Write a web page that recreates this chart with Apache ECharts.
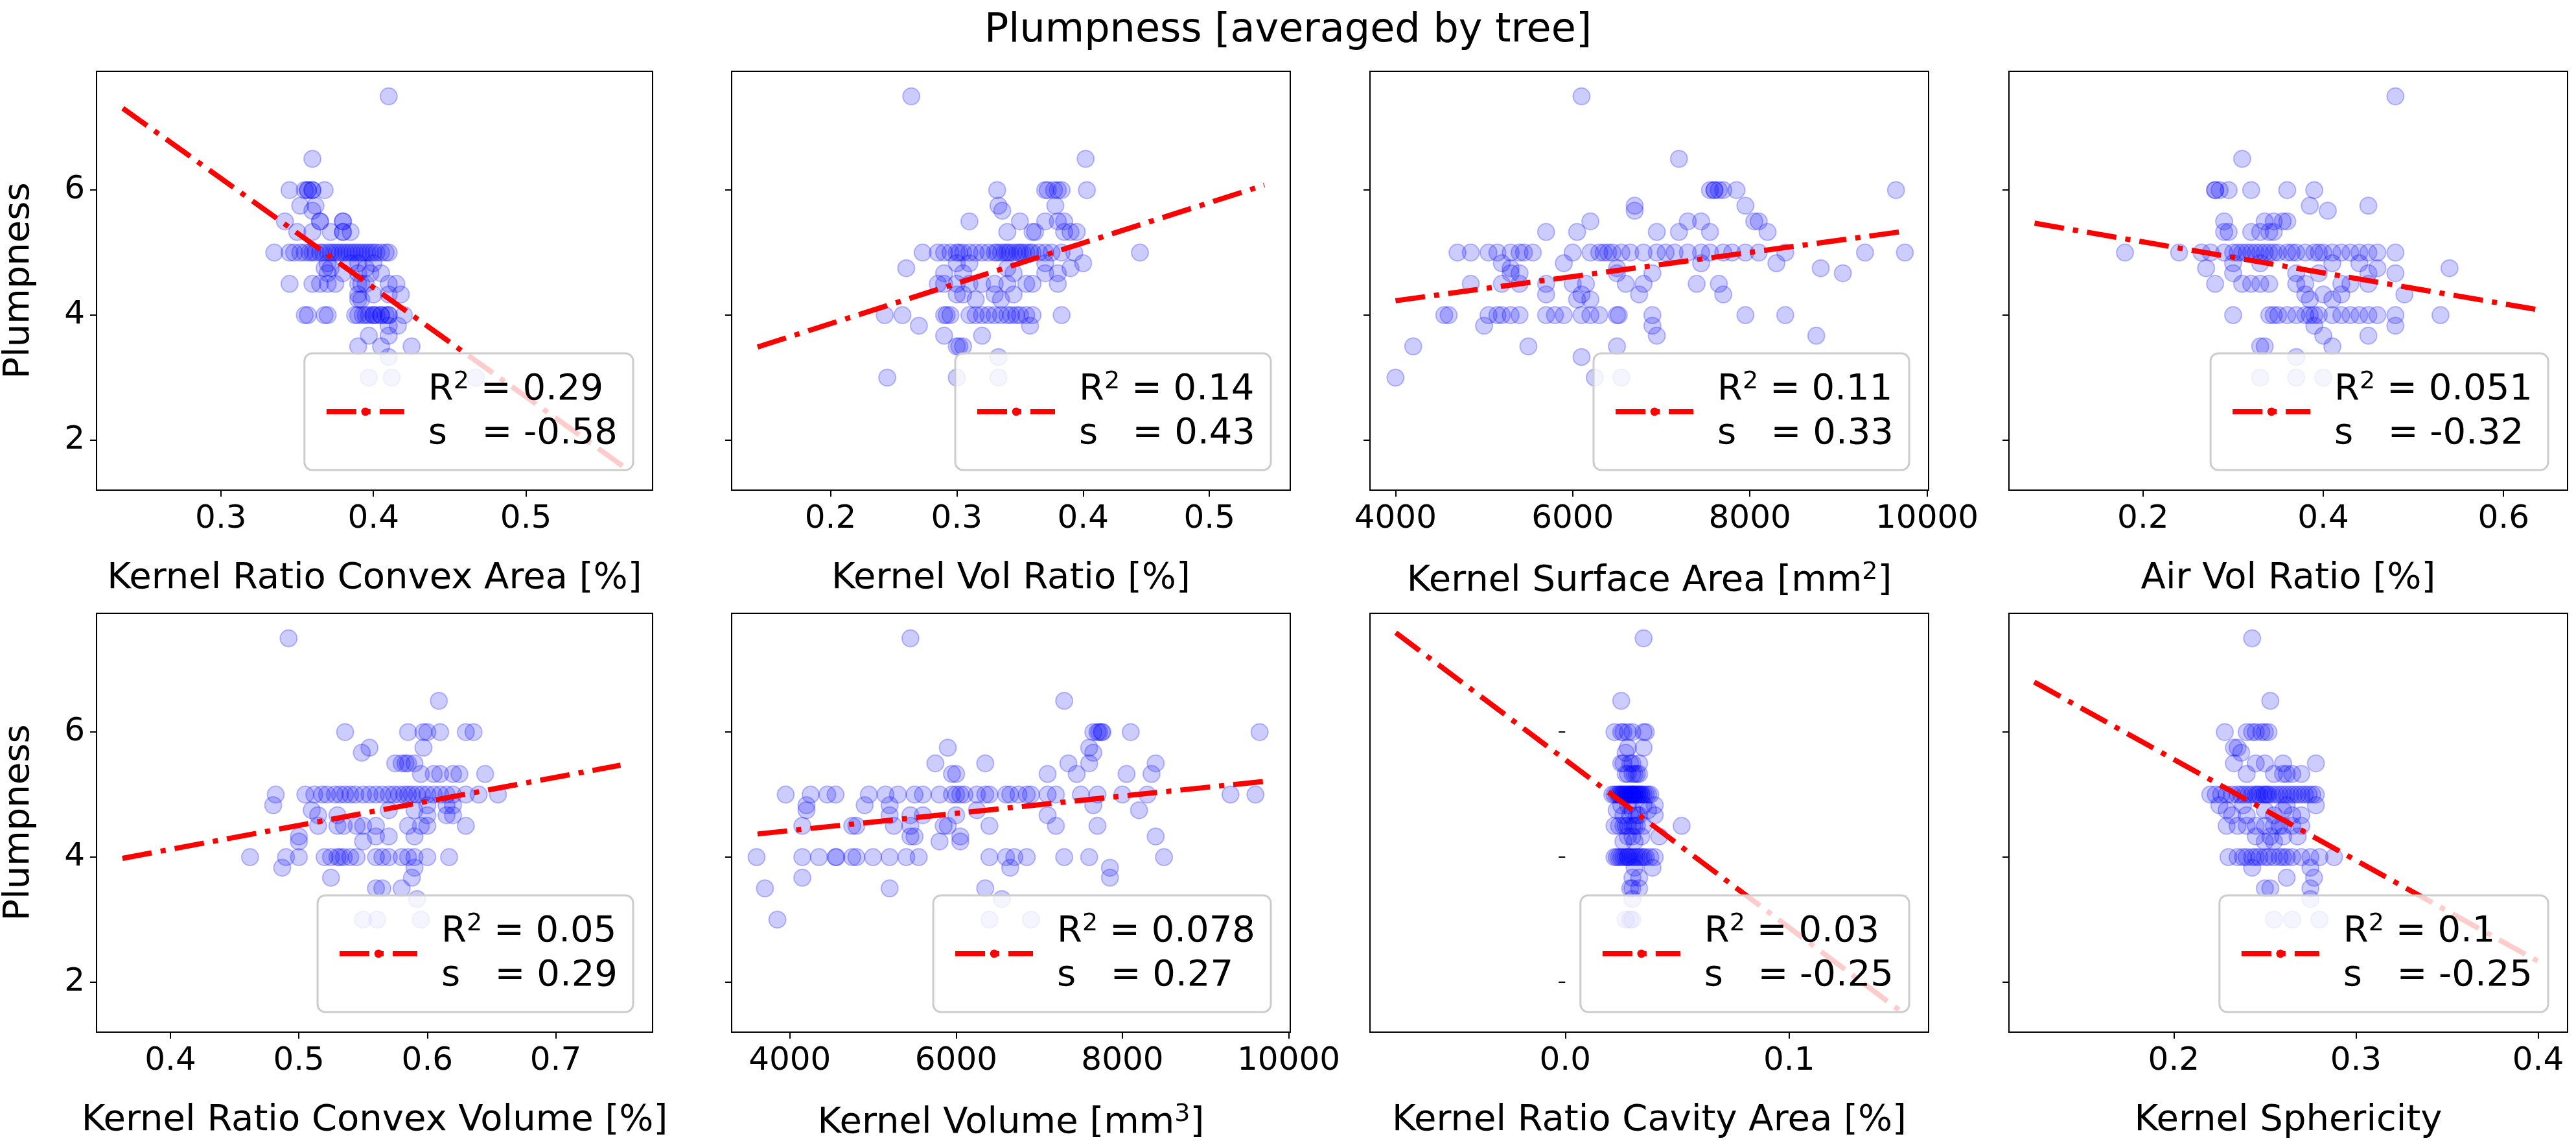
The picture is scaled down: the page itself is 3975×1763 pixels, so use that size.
<!DOCTYPE html>
<html style="height: 100%">
<head>
<meta charset="utf-8">
<script src="https://cdn.jsdelivr.net/npm/echarts@6/dist/echarts.min.js"></script>
</head>
<body style="height: 100%; margin: 0; background: #fff">
<div id="container" style="width: 3975px; height: 1763px"></div>
<script type="text/javascript">
// plumpness per tree (same trees in every panel, grouped by level)
var plump = [
  7.5, 6.5,
  6, 6, 6, 6, 6, 6, 6,
  5.75, 5.75, 5.67,
  5.5, 5.5, 5.5, 5.5, 5.5,
  5.33, 5.33, 5.33, 5.33, 5.33, 5.33,
  5, 5, 5, 5, 5, 5, 5, 5, 5, 5, 5, 5, 5, 5, 5, 5, 5, 5, 5, 5, 5, 5, 5, 5, 5, 5, 5, 5, 5, 5,
  4.83, 4.83, 4.83, 4.83,
  4.75, 4.75, 4.75,
  4.67, 4.67, 4.67, 4.67, 4.67,
  4.5, 4.5, 4.5, 4.5, 4.5, 4.5, 4.5, 4.5, 4.5, 4.5,
  4.33, 4.33, 4.33, 4.33,
  4.25, 4.25,
  4, 4, 4, 4, 4, 4, 4, 4, 4, 4, 4, 4, 4, 4, 4, 4, 4, 4,
  3.83, 3.83, 3.67, 3.67,
  3.5, 3.5, 3.5, 3.33,
  3, 3, 3
];

var ratioConvexArea = [
  0.41, 0.36,
  0.345, 0.355, 0.357, 0.36, 0.368, 0.357, 0.36,
  0.352, 0.362, 0.36,
  0.342, 0.365, 0.365, 0.38, 0.38,
  0.35, 0.36, 0.372, 0.38, 0.385, 0.38,
  0.335, 0.345, 0.348, 0.352, 0.355, 0.358, 0.36, 0.362, 0.365, 0.367, 0.37, 0.372, 0.374, 0.376, 0.378, 0.38, 0.382, 0.384, 0.386, 0.388, 0.39, 0.392, 0.394, 0.396, 0.398, 0.4, 0.402, 0.405, 0.408, 0.41,
  0.37, 0.385, 0.39, 0.4,
  0.368, 0.372, 0.395,
  0.37, 0.38, 0.39, 0.398, 0.405,
  0.345, 0.36, 0.365, 0.37, 0.375, 0.39, 0.392, 0.395, 0.41, 0.415,
  0.39, 0.4, 0.41, 0.418,
  0.39, 0.392,
  0.355, 0.357, 0.368, 0.37, 0.388, 0.39, 0.393, 0.395, 0.397, 0.4, 0.4, 0.402, 0.405, 0.405, 0.408, 0.41, 0.41, 0.42,
  0.416, 0.41, 0.397, 0.41,
  0.39, 0.405, 0.425, 0.41,
  0.397, 0.412, 0.467
];
var volRatio = [
  0.264, 0.402,
  0.332, 0.37, 0.372, 0.377, 0.383, 0.403, 0.38,
  0.378, 0.333, 0.336,
  0.31, 0.35, 0.37, 0.38, 0.385,
  0.34, 0.36, 0.362, 0.39, 0.395, 0.385,
  0.273, 0.285, 0.29, 0.295, 0.3, 0.302, 0.305, 0.31, 0.315, 0.32, 0.325, 0.33, 0.332, 0.335, 0.338, 0.34, 0.342, 0.345, 0.348, 0.35, 0.352, 0.355, 0.358, 0.36, 0.365, 0.37, 0.375, 0.383, 0.393, 0.445,
  0.3, 0.31, 0.37, 0.4,
  0.26, 0.34, 0.39,
  0.29, 0.305, 0.345, 0.37, 0.38,
  0.285, 0.29, 0.3, 0.31, 0.32, 0.33, 0.34, 0.355, 0.36, 0.38,
  0.3, 0.305, 0.33, 0.345,
  0.315, 0.335,
  0.243, 0.257, 0.29, 0.292, 0.295, 0.31, 0.315, 0.32, 0.325, 0.33, 0.335, 0.34, 0.343, 0.347, 0.35, 0.355, 0.36, 0.383,
  0.27, 0.358, 0.29, 0.32,
  0.3, 0.305, 0.302, 0.333,
  0.245, 0.3, 0.333
];
var surfaceArea = [
  6100, 7200,
  7550, 7600, 7650, 7700, 7850, 9650, 7600,
  7950, 6700, 6700,
  6200, 7300, 7450, 8050, 8100,
  5700, 6050, 6950, 7200, 7550, 8200,
  4700, 4850, 5050, 5150, 5300, 5400, 5450, 5550, 6000, 6200, 6300, 6350, 6400, 6450, 6550, 6650, 6800, 6950, 7050, 7150, 7300, 7450, 7550, 7700, 7800, 7950, 8100, 8400, 9300, 9750,
  5200, 5900, 7450, 8300,
  5300, 8800, 6500,
  5300, 5400, 6500, 6900, 9050,
  4850, 5200, 5400, 5700, 6000, 6150, 6600, 6800, 7400, 7650,
  5700, 6100, 6750, 7700,
  6200, 6050,
  4550, 4600, 5050, 5150, 5200, 5300, 5400, 5700, 5800, 5900, 6100, 6200, 6300, 6500, 6520, 6900, 7950, 8400,
  5000, 6900, 6950, 8750,
  4200, 5500, 6500, 6100,
  4000, 6250, 6550
];
var airVolRatio = [
  0.48, 0.31,
  0.28, 0.285, 0.295, 0.32, 0.36, 0.39, 0.28,
  0.45, 0.385, 0.405,
  0.29, 0.335, 0.345, 0.355, 0.36,
  0.29, 0.32, 0.33, 0.34, 0.345, 0.295,
  0.18, 0.24, 0.265, 0.275, 0.29, 0.3, 0.305, 0.31, 0.315, 0.32, 0.325, 0.33, 0.335, 0.34, 0.345, 0.35, 0.36, 0.365, 0.37, 0.38, 0.39, 0.395, 0.4, 0.41, 0.42, 0.43, 0.44, 0.45, 0.46, 0.48,
  0.3, 0.33, 0.41, 0.44,
  0.54, 0.27, 0.46,
  0.3, 0.37, 0.395, 0.45, 0.48,
  0.28, 0.31, 0.32, 0.33, 0.34, 0.37, 0.38, 0.42, 0.43, 0.45,
  0.38, 0.4, 0.42, 0.49,
  0.385, 0.41,
  0.3, 0.34, 0.345, 0.35, 0.36, 0.37, 0.38, 0.385, 0.39, 0.395, 0.41, 0.42, 0.43, 0.44, 0.45, 0.46, 0.48, 0.53,
  0.48, 0.39, 0.4, 0.45,
  0.33, 0.335, 0.41, 0.37,
  0.33, 0.37, 0.4
];
var ratioConvexVolume = [
  0.492, 0.609,
  0.536, 0.585, 0.597, 0.61, 0.63, 0.636, 0.6,
  0.597, 0.555, 0.549,
  0.575, 0.58, 0.585, 0.59, 0.583,
  0.595, 0.605, 0.62, 0.625, 0.645, 0.61,
  0.482, 0.505, 0.512, 0.518, 0.522, 0.528, 0.532, 0.536, 0.54, 0.544, 0.55, 0.555, 0.56, 0.565, 0.57, 0.574, 0.578, 0.582, 0.585, 0.588, 0.592, 0.596, 0.6, 0.605, 0.61, 0.615, 0.62, 0.63, 0.64, 0.655,
  0.48, 0.6, 0.615, 0.62,
  0.51, 0.57, 0.59,
  0.515, 0.53, 0.615, 0.62, 0.6,
  0.515, 0.53, 0.535, 0.545, 0.55, 0.56, 0.585, 0.595, 0.6, 0.63,
  0.5, 0.57, 0.59, 0.56,
  0.55, 0.5,
  0.462, 0.49, 0.5, 0.52, 0.525, 0.53, 0.532, 0.535, 0.54, 0.545, 0.56, 0.565, 0.57, 0.58, 0.585, 0.59, 0.6, 0.617,
  0.487, 0.59, 0.525, 0.588,
  0.56, 0.565, 0.58, 0.592,
  0.55, 0.561, 0.595
];
var kernelVolume = [
  5450, 7300,
  7650, 7700, 7750, 7720, 8100, 9650, 7760,
  7600, 5900, 7650,
  5750, 6350, 7350, 7600, 8400,
  5950, 6000, 7100, 7450, 8050, 8350,
  3950, 4250, 4450, 4550, 4950, 5150, 5300, 5500, 5600, 5800, 5950, 6000, 6050, 6100, 6250, 6350, 6400, 6600, 6650, 6750, 6850, 6900, 7100, 7200, 7500, 7700, 8000, 8300, 9300, 9600,
  4200, 4900, 5200, 7650,
  4200, 6250, 8200,
  5200, 5600, 5450, 6000, 7100,
  4150, 4750, 4800, 5250, 5450, 5850, 5900, 6400, 7200, 7700,
  5450, 5500, 6050, 8400,
  6050, 5800,
  3600, 4150, 4350, 4550, 4560, 4750, 4800, 5000, 5200, 5400, 5550, 6400, 6600, 6700, 6850, 7300, 7600, 8500,
  6650, 7850, 4150, 7850,
  3700, 5200, 6350, 6550,
  3850, 6400, 6900
];
var ratioCavityArea = [
  0.035, 0.025,
  0.022, 0.025, 0.028, 0.035, 0.036, 0.026, 0.03,
  0.035, 0.028, 0.027,
  0.026, 0.029, 0.03, 0.033, 0.025,
  0.028, 0.03, 0.032, 0.033, 0.027, 0.031,
  0.021, 0.022, 0.023, 0.024, 0.024, 0.025, 0.025, 0.026, 0.026, 0.027, 0.027, 0.028, 0.028, 0.029, 0.029, 0.03, 0.03, 0.031, 0.031, 0.032, 0.032, 0.033, 0.033, 0.034, 0.034, 0.035, 0.036, 0.037, 0.038, 0.03,
  0.025, 0.035, 0.04, 0.028,
  0.023, 0.03, 0.037,
  0.026, 0.033, 0.04, 0.029, 0.032,
  0.022, 0.024, 0.026, 0.028, 0.03, 0.032, 0.035, 0.052, 0.027, 0.031,
  0.03, 0.042, 0.028, 0.034,
  0.031, 0.026,
  0.022, 0.023, 0.024, 0.025, 0.026, 0.027, 0.028, 0.028, 0.029, 0.03, 0.031, 0.032, 0.033, 0.034, 0.035, 0.036, 0.038, 0.04,
  0.039, 0.031, 0.033, 0.03,
  0.029, 0.03, 0.033, 0.03,
  0.027, 0.029, 0.03
];
var sphericity = [
  0.243, 0.253,
  0.228, 0.24, 0.245, 0.248, 0.252, 0.243, 0.25,
  0.235, 0.233, 0.237,
  0.233, 0.245, 0.25, 0.26, 0.278,
  0.24, 0.255, 0.26, 0.262, 0.265, 0.27,
  0.22, 0.223, 0.226, 0.229, 0.232, 0.235, 0.237, 0.239, 0.241, 0.243, 0.245, 0.247, 0.249, 0.25, 0.252, 0.254, 0.256, 0.258, 0.26, 0.262, 0.264, 0.266, 0.268, 0.27, 0.272, 0.274, 0.276, 0.278, 0.251, 0.246,
  0.225, 0.238, 0.262, 0.278,
  0.229, 0.25, 0.26,
  0.232, 0.24, 0.255, 0.265, 0.27,
  0.229, 0.235, 0.24, 0.245, 0.25, 0.255, 0.26, 0.265, 0.27, 0.258,
  0.245, 0.253, 0.26, 0.268,
  0.25, 0.255,
  0.23, 0.235, 0.238, 0.24, 0.243, 0.245, 0.247, 0.25, 0.252, 0.255, 0.258, 0.26, 0.262, 0.265, 0.27, 0.275, 0.28, 0.288,
  0.243, 0.275, 0.262, 0.277,
  0.25, 0.253, 0.275, 0.275,
  0.255, 0.28, 0.265
];

var features = [ratioConvexArea, volRatio, surfaceArea, airVolRatio,
                ratioConvexVolume, kernelVolume, ratioCavityArea, sphericity];
var axisNames = ['Kernel Ratio Convex Area [%]', 'Kernel Vol Ratio [%]', 'Kernel Surface Area [mm{sup|2}]', 'Air Vol Ratio [%]',
                 'Kernel Ratio Convex Volume [%]', 'Kernel Volume [mm{sup|3}]', 'Kernel Ratio Cavity Area [%]', 'Kernel Sphericity'];
var xTicks = [[0.3, 0.4, 0.5], [0.2, 0.3, 0.4, 0.5], [4000, 6000, 8000, 10000], [0.2, 0.4, 0.6],
              [0.4, 0.5, 0.6, 0.7], [4000, 6000, 8000, 10000], [0.0, 0.1], [0.2, 0.3, 0.4]];
var xRange = [[0.2185, 0.583], [0.1218, 0.564], [3712, 10018], [0.0513, 0.671],
              [0.3425, 0.7754], [3300, 10019], [-0.0872, 0.1623], [0.1095, 0.4162]];
// fitted line ends [x0, y0, x1, y1]
var fitLines = [[0.2357, 7.31, 0.5655, 1.55], [0.1423, 3.49, 0.5435, 6.08], [4000, 4.23, 9689, 5.33], [0.0797, 5.47, 0.6366, 4.09],
                [0.3626, 3.98, 0.7504, 5.47], [3611, 4.37, 9693, 5.21], [-0.0757, 7.59, 0.1515, 1.49], [0.1234, 6.80, 0.4027, 2.29]];
var r2 = ['0.29', '0.14', '0.11', '0.051', '0.05', '0.078', '0.03', '0.1'];
var slope = ['-0.58', '0.43', '0.33', '-0.32', '0.29', '0.27', '-0.25', '-0.25'];
var yTicks = [2, 4, 6];

var dom = document.getElementById('container');
var myChart = echarts.init(dom);

var FONT = 'DejaVu Sans';
var lefts = [145, 1129, 2114, 3100];
var tops = [110, 946];
var W = 862, H = 646;

var grid = [], xAxis = [], yAxis = [], series = [], legend = [];
for (var i = 0; i < 8; i++) {
    var col = i % 4, row = Math.floor(i / 4);
    var gl = lefts[col], gt = tops[row];
    grid.push({left: gl, top: gt, width: W, height: H, show: true,
               borderColor: '#000', borderWidth: 2, backgroundColor: 'transparent'});
    var fmt = (i === 2 || i === 5) ? function (v) { return String(v); } : function (v) { return v.toFixed(1); };
    xAxis.push({
        type: 'value', gridIndex: i, min: xRange[i][0], max: xRange[i][1],
        name: axisNames[i], nameLocation: 'middle', nameGap: 108,
        nameTextStyle: {fontFamily: FONT, fontSize: 56, color: '#000',
            rich: {sup: {fontFamily: FONT, fontSize: 38, color: '#000', padding: [0, 0, 26, 0]}}},
        axisLine: {show: false},
        axisTick: {show: true, length: 10, lineStyle: {color: '#000', width: 2}, customValues: xTicks[i]},
        axisLabel: {fontFamily: FONT, fontSize: 50, color: '#000', margin: 20, customValues: xTicks[i], formatter: fmt},
        splitLine: {show: false}
    });
    yAxis.push({
        type: 'value', gridIndex: i, min: 1.2, max: 7.9,
        name: col === 0 ? 'Plumpness' : '', nameLocation: 'middle', nameGap: 92,
        nameTextStyle: {fontFamily: FONT, fontSize: 56, color: '#000'},
        axisLine: {show: false},
        axisTick: {show: true, length: 10, lineStyle: {color: '#000', width: 2}, customValues: yTicks},
        axisLabel: {show: col === 0, fontFamily: FONT, fontSize: 50, color: '#000', margin: 18, customValues: yTicks},
        splitLine: {show: false}
    });
    var pts = [];
    for (var k = 0; k < plump.length && k < features[i].length; k++) pts.push([features[i][k], plump[k]]);
    series.push({
        type: 'scatter', xAxisIndex: i, yAxisIndex: i, data: pts, symbolSize: 26,
        itemStyle: {color: 'rgba(0,0,255,0.25)', borderColor: 'rgba(0,0,255,0.3)', borderWidth: 2},
        silent: true, z: 2
    });
    var nm = 'fit' + i;
    series.push({
        name: nm, type: 'line', xAxisIndex: i, yAxisIndex: i, showSymbol: false, symbol: 'none',
        data: [[fitLines[i][0], fitLines[i][1]], [fitLines[i][2], fitLines[i][3]]],
        color: '#ff0000',
        lineStyle: {color: '#ff0000', width: 8, type: [46, 14, 8, 14]},
        z: 3, silent: true
    });
    legend.push({
        data: [nm], orient: 'vertical',
        right: 3975 - (gl + W - 30), bottom: 1763 - (gt + H - 31),
        backgroundColor: 'rgba(255,255,255,0.8)', borderColor: '#cccccc', borderWidth: 3, borderRadius: 12,
        padding: [22, 24, 22, 30], itemWidth: 120, itemHeight: 16, itemGap: 0,
        selectedMode: false,
        lineStyle: {color: '#ff0000', width: 8, type: [46, 14, 8, 14]},
        textStyle: {fontFamily: FONT, fontSize: 56, color: '#000', lineHeight: 68, padding: [0, 0, 0, 32],
            rich: {sup: {fontFamily: FONT, fontSize: 38, color: '#000', padding: [0, 0, 24, 0]},
                   t: {fontFamily: FONT, fontSize: 56, color: '#000', lineHeight: 68}}},
        formatter: (function (a, b) {
            return function () { return '{t|R}{sup|2}{t| = ' + a + '}\n{t|s   = ' + b + '}'; };
        })(r2[i], slope[i]),
        z: 10
    });
}

option = {
    backgroundColor: '#fff',
    animation: false,
    title: {text: 'Plumpness [averaged by tree]', left: 'center', top: 12,
            textStyle: {fontFamily: FONT, fontSize: 62, fontWeight: 'normal', color: '#000'}},
    grid: grid, xAxis: xAxis, yAxis: yAxis, legend: legend, series: series
};

if (option && typeof option === 'object') {
    myChart.setOption(option, true);
}
</script>
</body>
</html>
